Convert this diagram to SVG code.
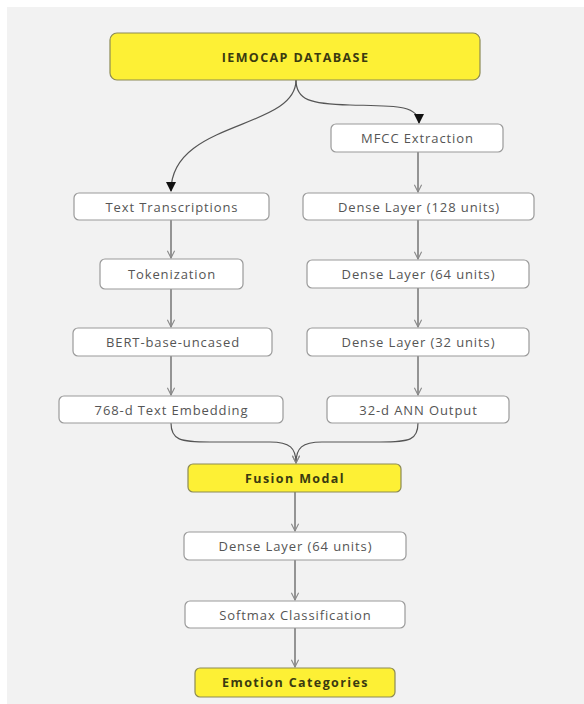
<svg xmlns="http://www.w3.org/2000/svg" width="584" height="704" viewBox="0 0 584 704">
<style>
.bg{fill:#f2f2f2}
.n rect{fill:#ffffff;stroke:#9a9a9a;stroke-width:1.2}
.y rect{fill:#fdf035;stroke:#8c8a55;stroke-width:1.2}
text{font-family:"Open Sans","DejaVu Sans",sans-serif;text-anchor:middle;dominant-baseline:central}
.n text{font-size:13px;fill:#555;letter-spacing:0.9px}
.y text{font-size:12.5px;font-weight:bold;fill:#3a3a10;letter-spacing:1.4px}
.e path{fill:none;stroke:#555;stroke-width:1.2}
</style>
<defs>
<marker id="a1" viewBox="0 0 10 10" refX="9" refY="5" markerWidth="10" markerHeight="10" markerUnits="userSpaceOnUse" orient="auto">
<path d="M0,0 L10,5 L0,10 z" fill="#111"/>
</marker>
<marker id="a2" viewBox="0 0 10 10" refX="9" refY="5" markerWidth="9" markerHeight="9" markerUnits="userSpaceOnUse" orient="auto">
<path d="M1,1 L9,5 L1,9" fill="none" stroke="#888" stroke-width="1.2"/>
</marker>
</defs>
<rect class="bg" x="7" y="7" width="577" height="697"/>
<g class="e">
<path d="M296,80 C296,130 171,120 171,191" marker-end="url(#a1)"/>
<path d="M296,80 C296,100 310,104 350,105 S419,104 419,123" marker-end="url(#a1)"/>
<path d="M171,220 L171,258" marker-end="url(#a2)"/>
<path d="M171,289 L171,327" marker-end="url(#a2)"/>
<path d="M171,356 L171,395" marker-end="url(#a2)"/>
<path d="M418,152 L418,192" marker-end="url(#a2)"/>
<path d="M418,220 L418,259" marker-end="url(#a2)"/>
<path d="M418,288 L418,327" marker-end="url(#a2)"/>
<path d="M418,356 L418,395" marker-end="url(#a2)"/>
<path d="M171,423 C171,440 180,442 210,442 L270,442 C290,442 296,448 296,463" marker-end="url(#a2)"/>
<path d="M418,423 C418,440 410,442 380,442 L322,442 C302,442 296,448 296,463" marker-end="url(#a2)"/>
<path d="M295,492 L295,531" marker-end="url(#a2)"/>
<path d="M295,560 L295,600" marker-end="url(#a2)"/>
<path d="M295,628 L295,667" marker-end="url(#a2)"/>
</g>
<g id="iemocap" class="y"><rect x="110" y="33" width="370" height="47" rx="7"/><text x="295.5" y="57">IEMOCAP DATABASE</text></g>
<g id="text-transcriptions" class="n"><rect x="74" y="193" width="195" height="27" rx="5"/><text x="172" y="206.5">Text Transcriptions</text></g>
<g id="tokenization" class="n"><rect x="100" y="259" width="143" height="30" rx="5"/><text x="172" y="274">Tokenization</text></g>
<g id="bert" class="n"><rect x="73" y="328" width="199" height="28" rx="5"/><text x="173" y="342">BERT-base-uncased</text></g>
<g id="text-embedding" class="n"><rect x="59" y="396" width="224" height="27" rx="5"/><text x="171.5" y="409.5">768-d Text Embedding</text></g>
<g id="mfcc" class="n"><rect x="331" y="124" width="172" height="28" rx="5"/><text x="417.5" y="138">MFCC Extraction</text></g>
<g id="dense128" class="n"><rect x="303" y="193" width="231" height="27" rx="5"/><text x="419" y="206.5">Dense Layer (128 units)</text></g>
<g id="dense64a" class="n"><rect x="307" y="260" width="222" height="28" rx="5"/><text x="418.5" y="274">Dense Layer (64 units)</text></g>
<g id="dense32" class="n"><rect x="307" y="328" width="222" height="28" rx="5"/><text x="418.5" y="342">Dense Layer (32 units)</text></g>
<g id="ann-output" class="n"><rect x="327" y="396" width="182" height="27" rx="5"/><text x="418.5" y="409.5">32-d ANN Output</text></g>
<g id="fusion" class="y"><rect x="188" y="464" width="213" height="28" rx="5"/><text x="295" y="478">Fusion Modal</text></g>
<g id="dense64b" class="n"><rect x="184" y="532" width="222" height="28" rx="5"/><text x="295.5" y="546">Dense Layer (64 units)</text></g>
<g id="softmax" class="n"><rect x="185" y="601" width="220" height="27" rx="5"/><text x="295.5" y="614.5">Softmax Classification</text></g>
<g id="emotion" class="y"><rect x="195" y="668" width="200" height="29" rx="5"/><text x="295.5" y="682.5">Emotion Categories</text></g>
</svg>
